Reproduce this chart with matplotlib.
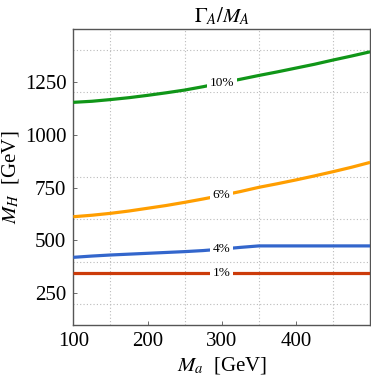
import matplotlib
matplotlib.use('Agg')
import matplotlib.pyplot as plt
import numpy as np

plt.rcParams['font.family'] = ['Liberation Serif', 'DejaVu Serif']
plt.rcParams['mathtext.fontset'] = 'stix'

# curve values (M_a in GeV -> M_H in GeV)
ma = [100, 125, 150, 175, 200, 225, 250, 275, 300, 325, 350, 375, 400, 425, 450, 475, 500]
mh_10 = [1153, 1158, 1166, 1175, 1186, 1198, 1211, 1227, 1245, 1262, 1280, 1297, 1315, 1333, 1353, 1372, 1392]
mh_6 = [612, 619, 628, 639, 652, 665, 680, 696, 713, 731, 751, 768, 786, 805, 825, 846, 869]
mh_4 = [420, 426, 431, 435, 439, 443, 447, 452, 459, 467, 474, 474, 474, 474, 474, 474, 474]
mh_1 = [344] * 17

curves = [
    ('10%', mh_10, '#109618'),
    ('6%', mh_6, '#FF9E00'),
    ('4%', mh_4, '#3366CC'),
    ('1%', mh_1, '#CC3B0A'),
]
label_x = 300

fig = plt.figure(figsize=(3.71, 3.81), dpi=100)
ax = fig.add_axes([0.1976, 0.147, 0.8, 0.777])

for lab, mh, col in curves:
    ax.plot(ma, mh, color=col, lw=2.3, solid_capstyle='butt', zorder=3)
    y_lab = np.interp(label_x, ma, mh)
    ax.text(label_x, y_lab, lab, fontsize=9.5, ha='center', va='center',
            zorder=4, bbox=dict(boxstyle='square,pad=0.2', fc='white', ec='none'))

ax.set_xlim(100, 500)
ax.set_ylim(100, 1500)
ax.set_xticks([100, 200, 300, 400])
ax.set_yticks([250, 500, 750, 1000, 1250])
ax.set_xticks(np.arange(150, 500, 50), minor=True)
ax.set_yticks(np.arange(200, 1500, 200), minor=True)
ax.grid(which='minor', color='#bbbbbb', ls=(0, (1, 2)), lw=0.8)
ax.tick_params(which='minor', length=0)
ax.tick_params(which='major', direction='in', length=3, width=0.6, labelsize=15,
               color='#555555', pad=5)

for s in ax.spines.values():
    s.set_color('#555555')
    s.set_linewidth(1.0)

ax.set_title(r'$\Gamma_A/M_A$', fontsize=15, pad=5)
ax.set_xlabel(r'$M_a$  [GeV]', fontsize=15, labelpad=3)
ax.set_ylabel(r'$M_H$  [GeV]', fontsize=15, labelpad=3)

fig.savefig('out.png', dpi=100)
